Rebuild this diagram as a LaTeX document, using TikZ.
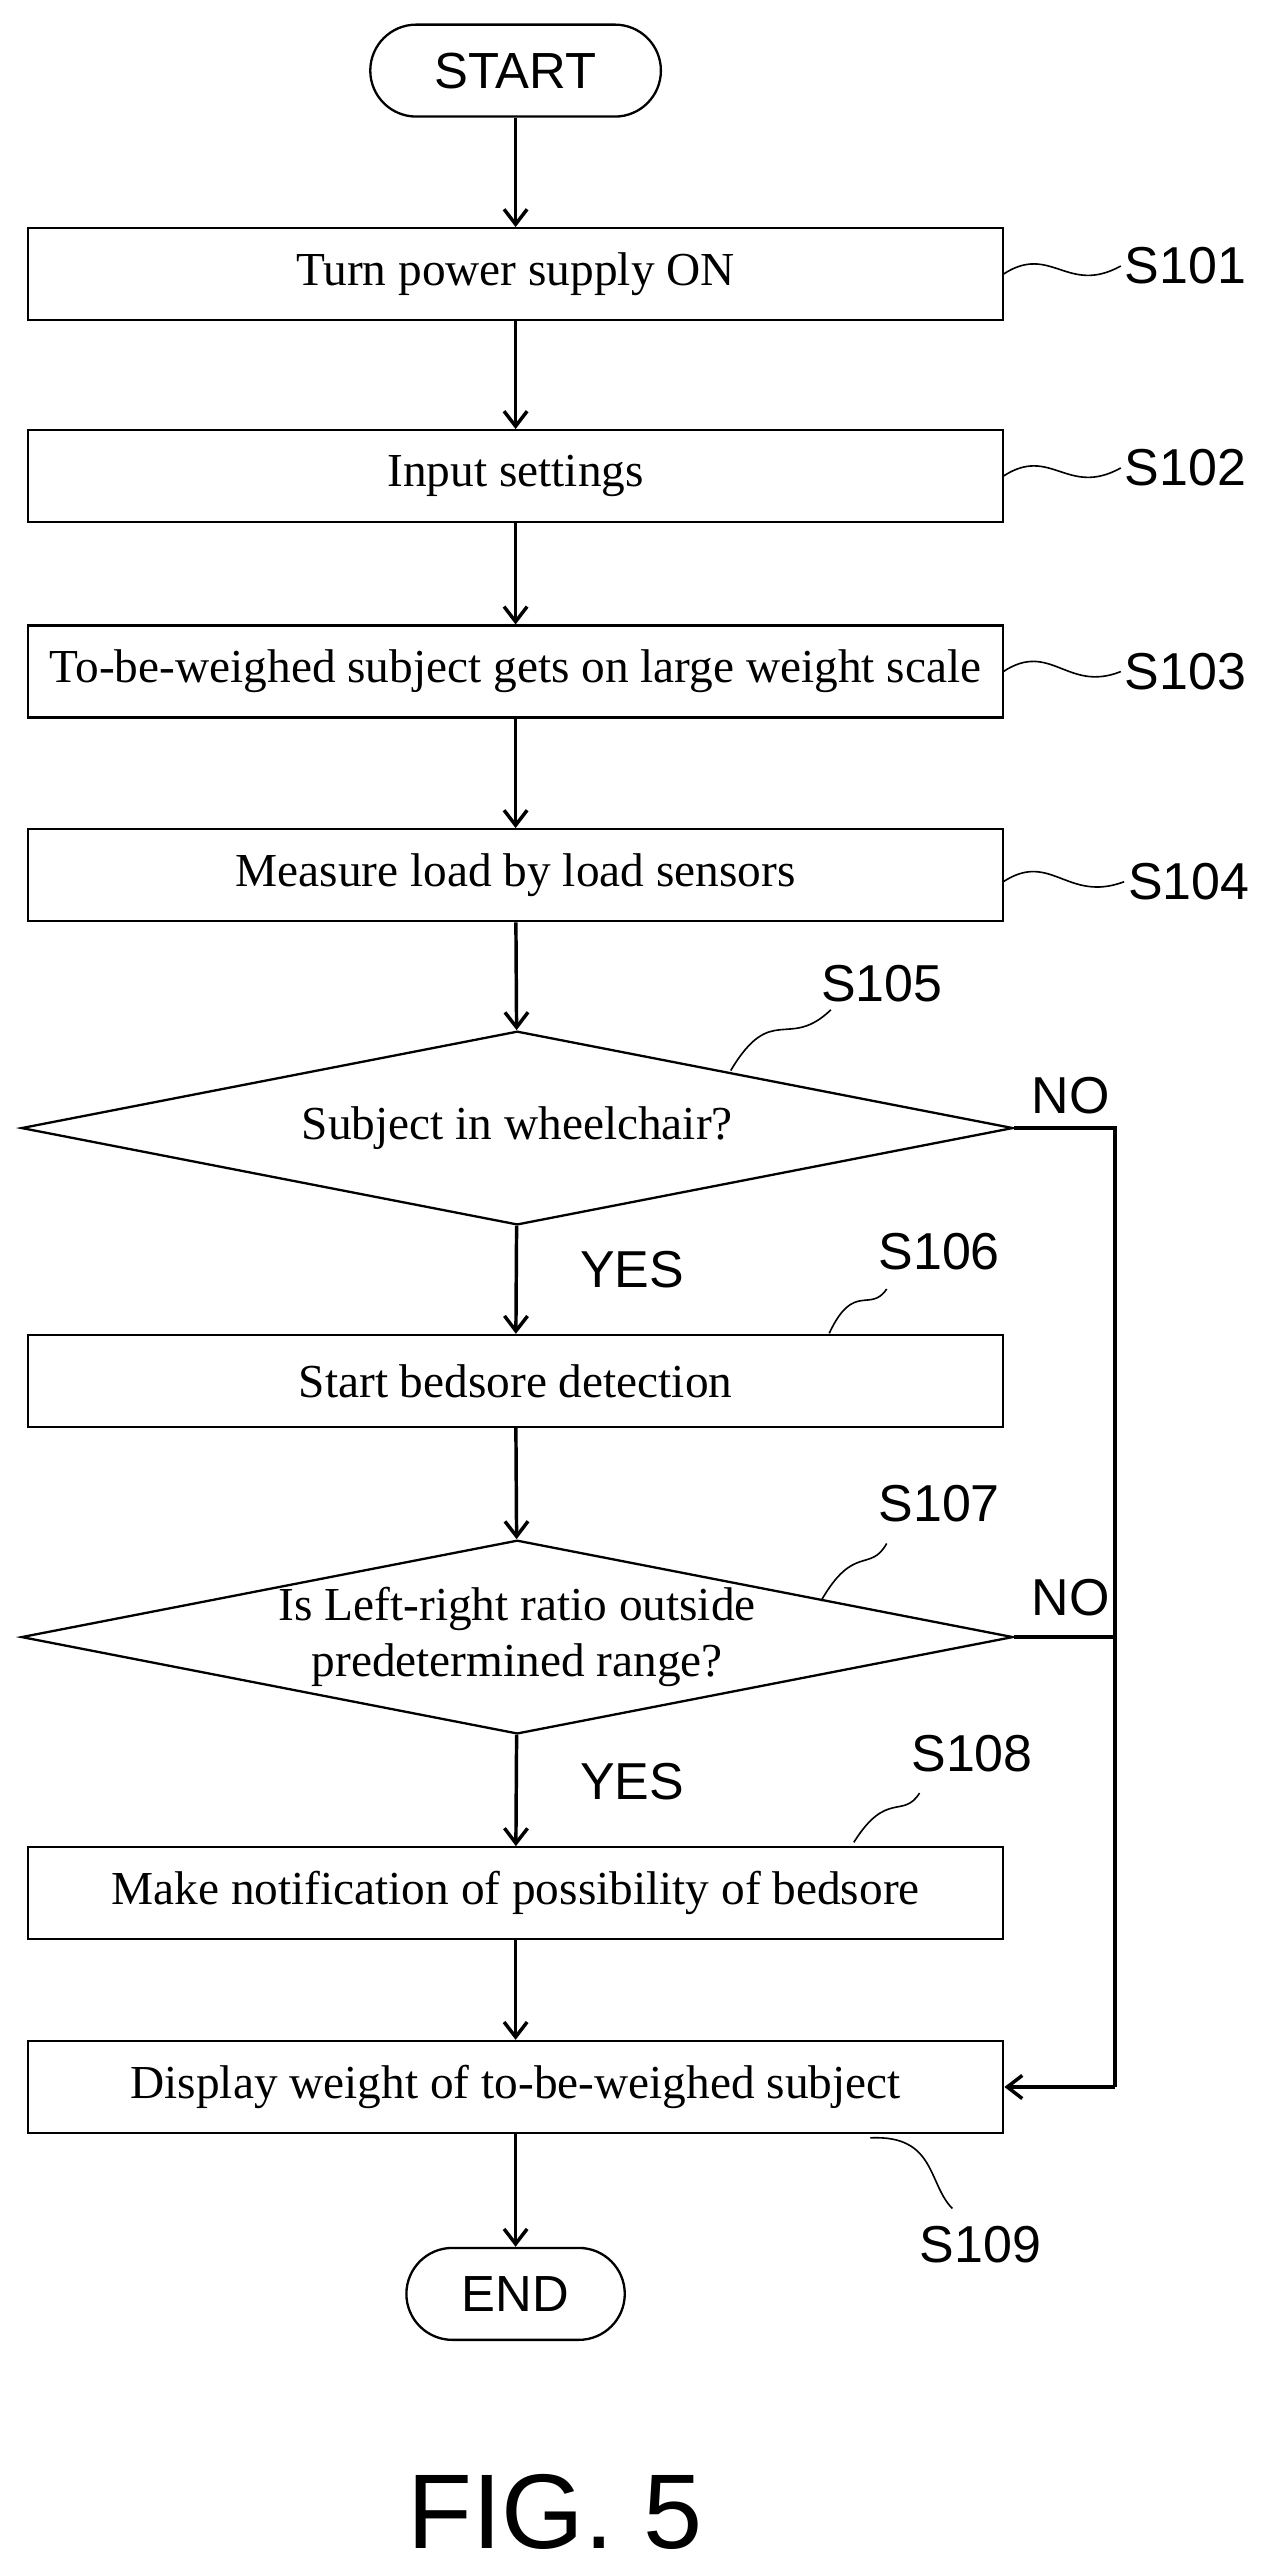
\documentclass[tikz,border=0pt]{standalone}
\usepackage{fontspec}
\setmainfont{Liberation Serif}
\newfontfamily\arialf{Liberation Sans}
\usetikzlibrary{arrows.meta,shapes.geometric}
\begin{document}
\begin{tikzpicture}[x=0.05cm,y=-0.05cm,
 box/.style={draw,line width=2pt,minimum width=594*0.05cm,minimum height=56*0.05cm,font=\fontsize{41}{46}\selectfont,align=center},
 term/.style={draw,line width=2pt,rounded corners=28*0.05cm,font=\arialf\fontsize{44}{50}\selectfont,minimum height=56*0.05cm},
 dia/.style={draw,line width=2pt,diamond,aspect=5.12,minimum width=604*0.05cm,minimum height=118*0.05cm,inner sep=0pt,font=\fontsize{41}{48}\selectfont,align=center},
 lab/.style={font=\arialf\fontsize{45}{50}\selectfont},
 arr/.style={line width=3pt,-{Straight Barb[length=13pt,width=20pt,line width=3pt]}},
 lead/.style={line width=1.4pt}]
\useasboundingbox (0,0) rectangle (775,1567);
\node[term,minimum width=177*0.05cm] (st) at (314,43) {START};
\node[box] (b1) at (314,167) {Turn power supply ON};
\node[box] (b2) at (314,290) {Input settings};
\node[box] (b3) at (314,409) {To-be-weighed subject gets on large weight scale};
\node[box] (b4) at (314,533) {Measure load by load sensors};
\node[dia] (d5) at (315,687) {Subject in wheelchair?};
\node[box] (b6) at (314,841) {Start bedsore detection};
\node[dia] (d7) at (315,997) {Is Left-right ratio outside\\predetermined range?};
\node[box] (b8) at (314,1153) {Make notification of possibility of bedsore};
\node[box] (b9) at (314,1271) {Display weight of to-be-weighed subject};
\node[term,minimum width=133*0.05cm] (en) at (314,1397) {END};
\draw[arr] (st) -- (b1);
\draw[arr] (b1) -- (b2);
\draw[arr] (b2) -- (b3);
\draw[arr] (b3) -- (b4);
\draw[arr] (b4) -- (d5);
\draw[arr] (d5) -- (b6);
\draw[arr] (b6) -- (d7);
\draw[arr] (d7) -- (b8);
\draw[arr] (b8) -- (b9);
\draw[arr] (b9) -- (en);
\coordinate (c1) at (679,687);
\coordinate (c2) at (679,997);
\coordinate (c3) at (679,1271);
\draw[line width=3pt] (d5.east) -- (c1) -- (c3);
\draw[line width=3pt] (d7.east) -- (c2);
\draw[arr] (c3) -- (b9.east);
\node[lab] (no1) at (652,667) {NO};
\node[lab] (no2) at (652,973) {NO};
\node[lab] (y1) at (385,773) {YES};
\node[lab] (y2) at (385,1085) {YES};
\node[lab] (s1) at (722,162) {S101};
\node[lab] (s2) at (722,285) {S102};
\node[lab] (s3) at (722,409) {S103};
\node[lab] (s4) at (724,537) {S104};
\node[lab] (s5) at (537,599) {S105};
\node[lab] (s6) at (572,762) {S106};
\node[lab] (s7) at (572,916) {S107};
\node[lab] (s8) at (592,1068) {S108};
\node[lab] (s9) at (597,1367) {S109};
\draw[lead] (611,167) .. controls (640,148) and (650,180) .. (s1.west);
\draw[lead] (611,290) .. controls (640,271) and (650,303) .. (s2.west);
\draw[lead] (611,409) .. controls (640,390) and (650,422) .. (s3.west);
\draw[lead] (611,537) .. controls (640,518) and (650,550) .. (s4.west);
\draw[lead] (445,652) .. controls (470,610) and (480,640) .. (506,615);
\draw[lead] (505,812) .. controls (520,780) and (530,800) .. (540,785);
\draw[lead] (500,975) .. controls (520,940) and (530,958) .. (540,940);
\draw[lead] (520,1122) .. controls (540,1090) and (550,1108) .. (560,1092);
\draw[lead] (530,1302) .. controls (570,1300) and (565,1330) .. (580,1345);
\node[font=\arialf\fontsize{92}{100}\selectfont] (fig) at (338,1530) {FIG. 5};
\end{tikzpicture}
\end{document}
